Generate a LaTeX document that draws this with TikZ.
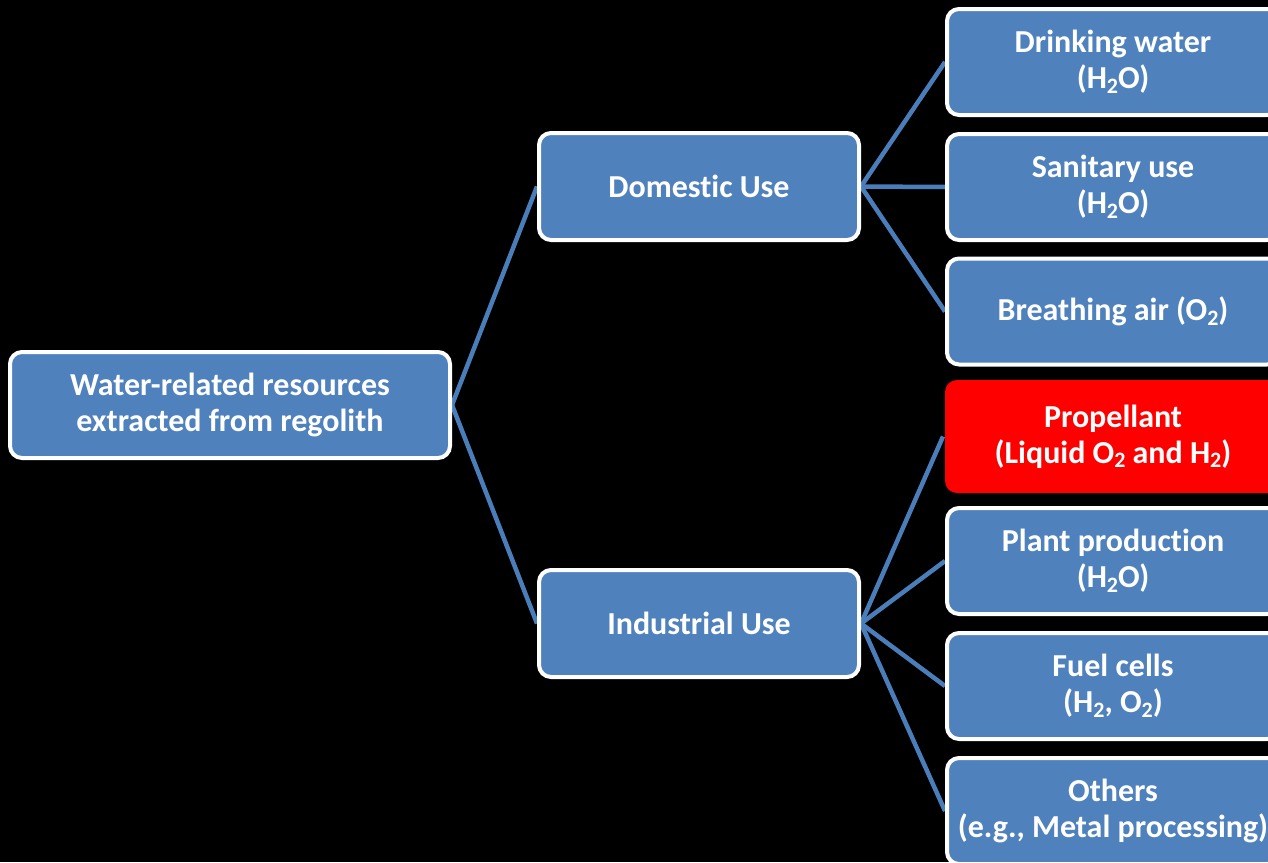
\documentclass[tikz,border=0pt]{standalone}
\usepackage{fontspec}
\setmainfont{Carlito}[Ligatures=NoCommon]
\usetikzlibrary{backgrounds}
\definecolor{boxblue}{HTML}{4F81BD}
\definecolor{linkblue}{HTML}{4A7EBB}
\definecolor{hotred}{HTML}{FF0000}
\newcommand{\subtwo}{\raisebox{-0.28ex}{\fontsize{22}{22}\selectfont 2}}
\tikzset{
  box/.style={rectangle, rounded corners=12pt, fill=boxblue, draw=white,
    line width=4pt, text=white, align=center, inner sep=0pt,
    font=\fontsize{32}{36}\selectfont\bfseries},
  midbox/.style={box, minimum width=320pt, minimum height=107pt},
  leafbox/.style={box, minimum width=332pt, minimum height=106pt},
  hotbox/.style={leafbox, fill=hotred, draw=none, minimum width=336pt, minimum height=113pt},
  link/.style={draw=linkblue, line width=4.5pt}
}
\begin{document}
\begin{tikzpicture}[x=1pt, y=-1pt]
  \useasboundingbox (0,0) rectangle (1268,862);
  \clip (0,0) rectangle (1268,862);
  \begin{scope}[on background layer]
    \fill[black] (0,0) rectangle (1268,862);
  \end{scope}

  % root and the two branches
  \node[box, minimum width=440pt, minimum height=106pt] (root) at (230,405)
    {Water-related resources\\extracted from regolith};
  \node[midbox] (dom) at (699,186.5) {Domestic Use};
  \node[midbox] (ind) at (699,623.5) {Industrial Use};

  % leaves
  \node[leafbox] (drink) at (1113,62) {Drinking water\\(H\subtwo O)};
  \node[leafbox] (sanit) at (1113,187) {Sanitary use\\(H\subtwo O)};
  \node[leafbox] (air) at (1113,311.5) {Breathing air (O\subtwo)};
  \node[hotbox] (prop) at (1113,436.5) {Propellant\\(Liquid O\subtwo\ and H\subtwo)};
  \node[leafbox] (plant) at (1113,561) {Plant production\\(H\subtwo O)};
  \node[leafbox] (fuel) at (1113,686) {Fuel cells\\(H\subtwo, O\subtwo)};
  \node[leafbox] (other) at (1113,811) {Others\\(e.g., Metal processing)};

  % connectors behind the boxes
  \begin{scope}[on background layer]
    \draw[link] (root.east) -- (dom.west);
    \draw[link] (root.east) -- (ind.west);
    \foreach \t in {drink, sanit, air}
      \draw[link] (dom.east) -- (\t.west);
    \foreach \t in {prop, plant, fuel, other}
      \draw[link] (ind.east) -- (\t.west);
  \end{scope}
\end{tikzpicture}
\end{document}
